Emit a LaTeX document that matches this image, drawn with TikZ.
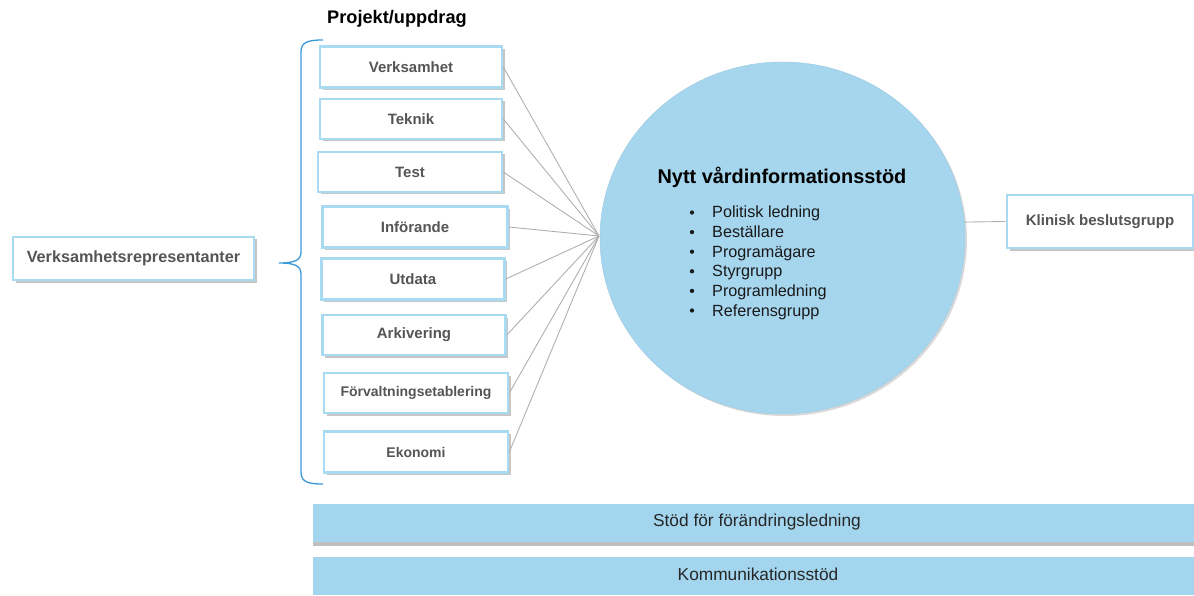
\documentclass[tikz,border=0pt]{standalone}
\usepackage{fontspec}
\setmainfont{Liberation Sans}
\usetikzlibrary{shapes.geometric,shadows}
\definecolor{boxline}{HTML}{A8DAF2}
\definecolor{boxtext}{HTML}{555555}
\definecolor{circfill}{HTML}{A5D6EE}
\definecolor{barfill}{HTML}{A3D6EE}
\definecolor{bracecol}{HTML}{3A9AD9}
\definecolor{linkcol}{HTML}{B0B0B0}
\tikzset{
  x=1pt, y=-1pt,
  pbox/.style={draw=boxline, line width=2.6pt, fill=white, text=boxtext,
    font=\fontsize{15}{17}\selectfont\bfseries, inner sep=0pt,
    drop shadow={shadow xshift=2.5pt, shadow yshift=-2.5pt, opacity=0.45, fill=gray}},
  small/.style={font=\fontsize{14}{16}\selectfont\bfseries},
  link/.style={draw=linkcol, line width=0.9pt},
  bar/.style={fill=barfill, draw=none, inner sep=0pt, minimum width=881pt, minimum height=38pt,
    font=\fontsize{17.3}{19}\selectfont, text=black!85},
  bul/.style={anchor=base west, font=\fontsize{16.2}{18}\selectfont, text=black!90, inner sep=0pt},
  dot/.style={circle, fill=black!90, inner sep=0pt, minimum size=4.3pt},
}
\begin{document}
\begin{tikzpicture}
\useasboundingbox (0,0) rectangle (1194,596);

% title
\node[font=\fontsize{18.2}{20}\selectfont\bfseries, anchor=base west, inner sep=0pt] (title) at (327,24) {Projekt/uppdrag};

% brace
\draw[bracecol, line width=1.3pt] (323,40) .. controls (308,40) and (301,42) .. (301,52)
  -- (301,252) .. controls (301,260) and (295,263) .. (279,263)
  .. controls (295,263) and (301,266) .. (301,274)
  -- (301,472) .. controls (301,482) and (308,484) .. (323,484);

% left box
\node[pbox, font=\fontsize{16.2}{18}\selectfont\bfseries, minimum width=241pt, minimum height=43pt] (rep) at (133.5,258.5) {Verksamhetsrepresentanter};

% project boxes
\node[pbox, minimum width=182pt, minimum height=41pt] (b1) at (411,67) {Verksamhet};
\node[pbox, minimum width=182pt, minimum height=40pt] (b2) at (411,119) {Teknik};
\node[pbox, minimum width=184pt, minimum height=40pt] (b3) at (410,172) {Test};
\node[pbox, minimum width=185pt, minimum height=41pt] (b4) at (415,227) {Införande};
\node[pbox, minimum width=183pt, minimum height=41pt] (b5) at (413,279) {Utdata};
\node[pbox, minimum width=183pt, minimum height=40pt] (b6) at (414,335) {Arkivering};
\node[pbox, small, minimum width=184pt, minimum height=40pt] (b7) at (416,393) {Förvaltningsetablering};
\node[pbox, small, minimum width=184pt, minimum height=41pt] (b8) at (416,452) {Ekonomi};

% hub
\coordinate (hub) at (599,236);
\foreach \b in {b1,b2,b3,b4,b5,b6,b7,b8}
  \draw[link] (\b.east) -- (hub);

% circle
\node[ellipse, fill=circfill, draw=circfill!90!gray, line width=0.5pt, minimum width=365pt, minimum height=352pt, inner sep=0pt,
  drop shadow={shadow xshift=2pt, shadow yshift=-2pt, opacity=0.3, fill=gray}] (circ) at (782.5,238) {};
\node[font=\fontsize{19.9}{22}\selectfont\bfseries, anchor=base, inner sep=0pt] (ctitle) at (782,184) {Nytt vårdinformationsstöd};

\foreach \t [count=\i] in {Politisk ledning,Beställare,Programägare,Styrgrupp,Programledning,Referensgrupp}{
  \node[bul] (bt\i) at (712,{218+(\i-1)*19.6}) {\t};
  \node[dot] (bd\i) at (692,{212.5+(\i-1)*19.6}) {};
}

% right box
\node[pbox, minimum width=186pt, minimum height=53pt] (klin) at (1100,221.5) {Klinisk beslutsgrupp};
\draw[link] (klin.west) -- (circ.5.2);

% bars
\node[bar, drop shadow={shadow xshift=0pt, shadow yshift=-3.5pt, opacity=0.5, fill=gray}] (bar1) at (753.5,523) {};
\node[bar] (bar2) at (753.5,576) {};
\node[font=\fontsize{17.3}{19}\selectfont, text=black!85, inner sep=0pt] (t1) at (757,522) {Stöd för förändringsledning};
\node[font=\fontsize{17.3}{19}\selectfont, text=black!85, inner sep=0pt] (t2) at (758,574.5) {Kommunikationsstöd};
\end{tikzpicture}
\end{document}
